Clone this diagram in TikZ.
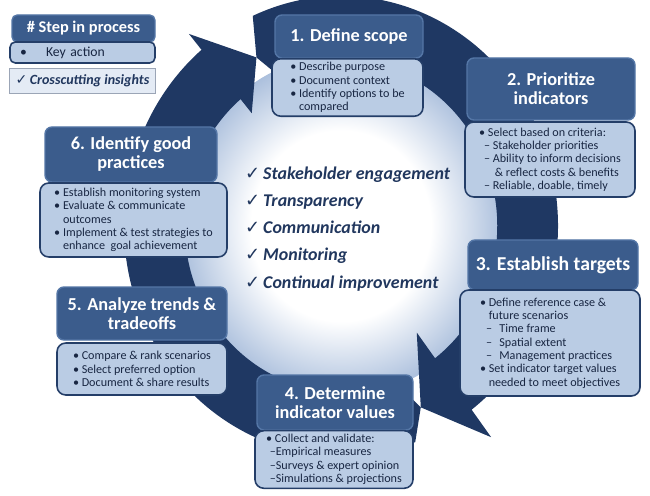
\documentclass[tikz,border=0pt]{standalone}
\usepackage{fontspec}
\setmainfont{Carlito}
\newfontfamily\checkfont{DejaVu Sans}
\definecolor{ringBlue}{RGB}{31,56,99}
\definecolor{headBlue}{RGB}{59,92,140}
\definecolor{headEdge}{RGB}{84,118,166}
\definecolor{bodyBlue}{RGB}{186,204,228}
\definecolor{bodyEdge}{RGB}{36,62,104}
\definecolor{bodyText}{RGB}{24,38,66}
\definecolor{insightText}{RGB}{33,55,94}
\definecolor{discBlue}{RGB}{172,192,221}
\definecolor{crossFill}{RGB}{228,235,245}
\definecolor{crossEdge}{RGB}{155,165,182}
\pgfdeclareradialshading{discGlow}{\pgfpoint{0bp}{0bp}}{color(0bp)=(white); color(14bp)=(white); color(25bp)=(discBlue); color(50bp)=(discBlue)}
\newcommand{\chk}{{\checkfont\mdseries\upshape ✓}\,}
\tikzset{
    stepHead/.style={draw=headEdge, fill=headBlue, line width=0.8pt, rounded corners=4pt,
        text=white, align=center, inner sep=1pt, font=\bfseries\fontsize{10.4}{10.8}\selectfont},
    actionBox/.style={draw=bodyEdge, fill=bodyBlue, line width=0.9pt, rounded corners=5pt,
        text=bodyText, align=left, inner sep=2pt, font=\fontsize{6.9}{7.6}\selectfont},
    insightList/.style={text=insightText, align=left, font=\bfseries\itshape\fontsize{10.2}{15.4}\selectfont}
}

\begin{document}
\begin{tikzpicture}
        \useasboundingbox (0,0) rectangle (13,9.9);

        % Anneau : fond et deux fleches
        \begin{scope}[shift={(6.82,5.38)}, xscale=4.34, yscale=4.6]
            \shade[shading=discGlow] (0,0) circle (0.74);
            \fill[ringBlue] (114:1) arc[start angle=114, end angle=-53, radius=1]
                -- (-53:1.15) -- (-65:0.87) -- (-53:0.58) -- (-53:0.72)
                arc[start angle=-53, end angle=114, radius=0.72] -- (118:0.83) -- cycle;
            \fill[ringBlue] (290:1) arc[start angle=290, end angle=130, radius=1]
                -- (130:1.09) -- (118:0.83) -- (130:0.64) -- (130:0.72)
                arc[start angle=130, end angle=290, radius=0.72] -- (295:0.87) -- cycle;
        \end{scope}

        % Legende
        \node[stepHead, rounded corners=3pt, minimum width=2.86cm, minimum height=0.54cm,
            font=\bfseries\fontsize{9.3}{11}\selectfont] (legendStep) at (1.67,9.33) {\# Step in process};
        \node[actionBox, rounded corners=3pt, text width=2.5cm, inner xsep=0.2cm, minimum height=0.42cm,
            font=\fontsize{7.8}{9}\selectfont] (legendKey) at (1.65,8.85) {•\hspace{1.4em}Key action};
        \node[draw=crossEdge, fill=crossFill, line width=0.5pt, minimum width=2.9cm, minimum height=0.5cm,
            text=insightText, font=\bfseries\itshape\fontsize{8}{9}\selectfont] (legendCross) at (1.65,8.29) {\chk Crosscutting insights};

        % Etape 1
        \node[stepHead, minimum width=2.96cm, minimum height=0.86cm] (scopeHead) at (6.98,9.17) {1. Define scope};
        \node[actionBox, minimum width=3.02cm, minimum height=1.1cm] (scopeBody) at (6.95,8.15)
            {• Describe purpose\\ • Document context\\ • Identify options to be\\ \phantom{• }compared};

        % Etape 2
        \node[stepHead, minimum width=3.36cm, minimum height=1.24cm] (indicatorHead) at (11.02,8.12) {2. Prioritize\\ indicators};
        \node[actionBox, minimum width=3.4cm, minimum height=1.5cm] (indicatorBody) at (11.0,6.71)
            {• Select based on criteria:\\
             \hspace*{0.4em}– Stakeholder priorities\\
             \hspace*{0.4em}– Ability to inform decisions\\
             \hspace*{1.3em}\& reflect costs \& benefits\\
             \hspace*{0.4em}– Reliable, doable, timely};

        % Etape 3
        \node[stepHead, minimum width=3.4cm, minimum height=1.0cm,
            font=\bfseries\fontsize{11.2}{12}\selectfont] (targetHead) at (11.06,4.6) {3. Establish targets};
        \node[actionBox, minimum width=3.6cm, minimum height=2.12cm] (targetBody) at (11.0,3.04)
            {• Define reference case \&\\
             \phantom{• }future scenarios\\
             \hspace*{0.5em}–\hspace*{0.6em}Time frame\\
             \hspace*{0.5em}–\hspace*{0.6em}Spatial extent\\
             \hspace*{0.5em}–\hspace*{0.6em}Management practices\\
             • Set indicator target values\\
             \phantom{• }needed to meet objectives};

        % Etape 4
        \node[stepHead, minimum width=3.12cm, minimum height=1.1cm] (valueHead) at (6.7,1.85) {4. Determine\\ indicator values};
        \node[actionBox, minimum width=3.16cm, minimum height=1.1cm] (valueBody) at (6.68,0.71)
            {• Collect and validate:\\
             \hspace*{0.3em}–Empirical measures\\
             \hspace*{0.3em}–Surveys \& expert opinion\\
             \hspace*{0.3em}–Simulations \& projections};

        % Etape 5
        \node[stepHead, minimum width=3.4cm, minimum height=1.06cm] (trendHead) at (2.84,3.63) {5. Analyze trends \&\\ tradeoffs};
        \node[actionBox, minimum width=3.4cm, minimum height=1.04cm] (trendBody) at (2.84,2.52)
            {• Compare \& rank scenarios\\ • Select preferred option\\ • Document \& share results};

        % Etape 6
        \node[stepHead, minimum width=3.44cm, minimum height=1.1cm] (practiceHead) at (2.62,6.81) {6. Identify good\\ practices};
        \node[actionBox, minimum width=3.74cm, minimum height=1.48cm] (practiceBody) at (2.67,5.5)
            {• Establish monitoring system\\
             • Evaluate \& communicate\\
             \phantom{• }outcomes\\
             • Implement \& test strategies to\\
             \phantom{• }enhance\ \ goal achievement\hspace*{0.5em}};

        % Centre
        \node[insightList, anchor=west] (insights) at (4.78,5.32)
            {\chk Stakeholder engagement\\ \chk Transparency\\ \chk Communication\\ \chk Monitoring\\ \chk Continual improvement};
\end{tikzpicture}
\end{document}
